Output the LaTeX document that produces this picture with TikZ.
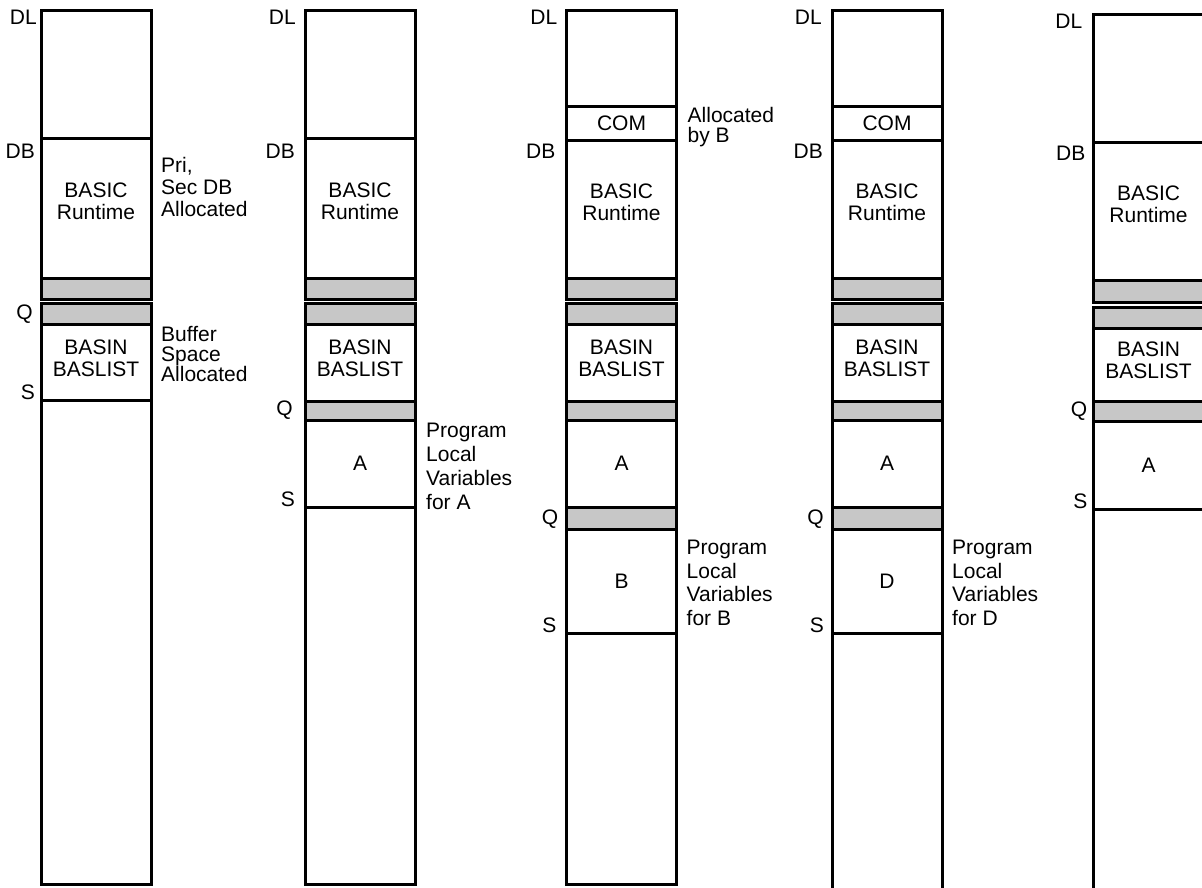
\documentclass[tikz,border=0pt]{standalone}
\usepackage{fontspec}
\setmainfont{Liberation Sans}
\usetikzlibrary{positioning}

\begin{document}
\begin{tikzpicture}[
    x=1pt, y=-1pt,
    mem/.style={rectangle, draw=black, line width=3pt, fill=white,
                minimum width=110pt, inner sep=0pt, outer sep=0pt,
                align=center, font=\fontsize{21}{23}\selectfont},
    pad/.style={mem, fill=black!22},
    txt/.style={inner sep=0pt, align=center, font=\fontsize{21}{22}\selectfont},
    tag/.style={inner sep=0pt, font=\fontsize{21}{22}\selectfont},
    note/.style={anchor=north west, inner sep=0pt, align=left,
                 font=\fontsize{21}{24}\selectfont},
    shortnote/.style={note, font=\fontsize{21}{21}\selectfont}
]
\useasboundingbox (0,0) rectangle (1202,887);
\clip (0,0) rectangle (1202,887);

\node[mem, minimum height=128pt, anchor=north] (top1) at (96,10) {};
\node[mem, minimum height=140pt, below=0pt of top1] (rt1) {};
\node[pad, minimum height=21pt, below=0pt of rt1] (p1a) {};
\node[pad, minimum height=21pt, below=4pt of p1a] (p1b) {};
\node[mem, minimum height=76pt, below=0pt of p1b] (bas1) {};
\node[mem, minimum height=484pt, below=0pt of bas1] (free1) {};
\node[txt] (rt1t) at ([yshift=7pt]rt1.center) {BASIC\\Runtime};
\node[txt] (bas1t) at ([yshift=4pt]bas1.center) {BASIN\\BASLIST};

\node[tag, anchor=north east] (dl1) at ([xshift=-4pt]top1.north west) {DL};
\node[tag, anchor=north east] (db1) at ([xshift=-6pt,yshift=-6pt]rt1.north west) {DB};
\node[tag, anchor=south east] (q1) at ([xshift=-8pt]p1b.south west) {Q};
\node[tag, anchor=south east] (s1) at ([xshift=-6pt]free1.north west) {S};
\node[shortnote, font=\fontsize{21}{22}\selectfont] (n1a) at ([xshift=10pt,yshift=-19pt]rt1.north east) {Pri,\\Sec DB\\Allocated};
\node[shortnote, font=\fontsize{21}{20}\selectfont] (n1b) at ([xshift=10pt,yshift=-2pt]bas1.north east) {Buffer\\Space\\Allocated};

\node[mem, minimum height=128pt, anchor=north] (top2) at (360,10) {};
\node[mem, minimum height=140pt, below=0pt of top2] (rt2) {};
\node[pad, minimum height=21pt, below=0pt of rt2] (p2a) {};
\node[pad, minimum height=21pt, below=4pt of p2a] (p2b) {};
\node[mem, minimum height=77pt, below=0pt of p2b] (bas2) {};
\node[pad, minimum height=19pt, below=0pt of bas2] (p2c) {};
\node[mem, minimum height=87pt, below=0pt of p2c] (a2) {A};
\node[mem, minimum height=377pt, below=0pt of a2] (free2) {};
\node[txt] (rt2t) at ([yshift=7pt]rt2.center) {BASIC\\Runtime};
\node[txt] (bas2t) at ([yshift=4pt]bas2.center) {BASIN\\BASLIST};

\node[tag, anchor=north east] (dl2) at ([xshift=-9pt]top2.north west) {DL};
\node[tag, anchor=north east] (db2) at ([xshift=-10pt,yshift=-6pt]rt2.north west) {DB};
\node[tag, anchor=south east] (q2) at ([xshift=-12pt]p2c.south west) {Q};
\node[tag, anchor=south east] (s2) at ([xshift=-10pt]free2.north west) {S};
\node[note] (n2) at ([xshift=11pt,yshift=-3pt]a2.north east) {Program\\Local\\Variables\\for A};

\node[mem, minimum height=96pt, anchor=north] (top3) at (621.5,10) {};
\node[mem, minimum height=34pt, below=0pt of top3] (com3) {COM};
\node[mem, minimum height=138pt, below=0pt of com3] (rt3) {};
\node[pad, minimum height=21pt, below=0pt of rt3] (p3a) {};
\node[pad, minimum height=21pt, below=4pt of p3a] (p3b) {};
\node[mem, minimum height=77pt, below=0pt of p3b] (bas3) {};
\node[pad, minimum height=19pt, below=0pt of bas3] (p3c) {};
\node[mem, minimum height=87pt, below=0pt of p3c] (a3) {A};
\node[pad, minimum height=22pt, below=0pt of a3] (p3d) {};
\node[mem, minimum height=104pt, below=0pt of p3d] (b3) {B};
\node[mem, minimum height=251pt, below=0pt of b3] (free3) {};
\node[txt] (rt3t) at ([yshift=7pt]rt3.center) {BASIC\\Runtime};
\node[txt] (bas3t) at ([yshift=4pt]bas3.center) {BASIN\\BASLIST};

\node[tag, anchor=north east] (dl3) at ([xshift=-9pt]top3.north west) {DL};
\node[tag, anchor=north east] (db3) at ([xshift=-11pt,yshift=-4pt]rt3.north west) {DB};
\node[tag, anchor=south east] (q3) at ([xshift=-8pt]p3d.south west) {Q};
\node[tag, anchor=south east] (s3) at ([xshift=-10pt]free3.north west) {S};
\node[shortnote, font=\fontsize{21}{20}\selectfont] (n3a) at ([xshift=11pt,yshift=-1pt]com3.north east) {Allocated\\by B};
\node[note, font=\fontsize{21}{23.5}\selectfont] (n3b) at ([xshift=10pt,yshift=-11pt]b3.north east) {Program\\Local\\Variables\\for B};

\node[mem, minimum height=96pt, anchor=north] (top4) at (887,10) {};
\node[mem, minimum height=34pt, below=0pt of top4] (com4) {COM};
\node[mem, minimum height=138pt, below=0pt of com4] (rt4) {};
\node[pad, minimum height=21pt, below=0pt of rt4] (p4a) {};
\node[pad, minimum height=21pt, below=4pt of p4a] (p4b) {};
\node[mem, minimum height=77pt, below=0pt of p4b] (bas4) {};
\node[pad, minimum height=19pt, below=0pt of bas4] (p4c) {};
\node[mem, minimum height=87pt, below=0pt of p4c] (a4) {A};
\node[pad, minimum height=22pt, below=0pt of a4] (p4d) {};
\node[mem, minimum height=104pt, below=0pt of p4d] (d4) {D};
\node[mem, minimum height=280pt, below=0pt of d4] (free4) {};
\node[txt] (rt4t) at ([yshift=7pt]rt4.center) {BASIC\\Runtime};
\node[txt] (bas4t) at ([yshift=4pt]bas4.center) {BASIN\\BASLIST};

\node[tag, anchor=north east] (dl4) at ([xshift=-10pt]top4.north west) {DL};
\node[tag, anchor=north east] (db4) at ([xshift=-9pt,yshift=-4pt]rt4.north west) {DB};
\node[tag, anchor=south east] (q4) at ([xshift=-8pt]p4d.south west) {Q};
\node[tag, anchor=south east] (s4) at ([xshift=-8pt]free4.north west) {S};
\node[note, font=\fontsize{21}{23.5}\selectfont] (n4) at ([xshift=10pt,yshift=-11pt]d4.north east) {Program\\Local\\Variables\\for D};

\node[mem, minimum height=128pt, anchor=north] (top5) at (1148.5,14) {};
\node[mem, minimum height=138pt, below=0pt of top5] (rt5) {};
\node[pad, minimum height=22pt, below=0pt of rt5] (p5a) {};
\node[pad, minimum height=21pt, below=5pt of p5a] (p5b) {};
\node[mem, minimum height=73pt, below=0pt of p5b] (bas5) {};
\node[pad, minimum height=20pt, below=0pt of bas5] (p5c) {};
\node[mem, minimum height=88pt, below=0pt of p5c] (a5) {A};
\node[mem, minimum height=400pt, below=0pt of a5] (free5) {};
\node[txt] (rt5t) at ([yshift=7pt]rt5.center) {BASIC\\Runtime};
\node[txt] (bas5t) at ([yshift=4pt]bas5.center) {BASIN\\BASLIST};

\node[tag, anchor=north east] (dl5) at ([xshift=-11pt]top5.north west) {DL};
\node[tag, anchor=north east] (db5) at ([xshift=-8pt,yshift=-4pt]rt5.north west) {DB};
\node[tag, anchor=south east] (q5) at ([xshift=-6pt]p5c.south west) {Q};
\node[tag, anchor=south east] (s5) at ([xshift=-6pt]free5.north west) {S};

\end{tikzpicture}
\end{document}
